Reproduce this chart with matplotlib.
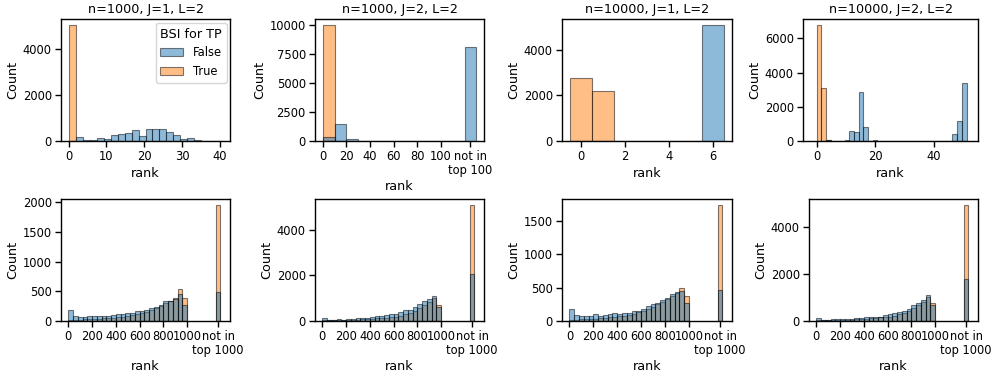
import numpy as np
import matplotlib
matplotlib.use("Agg")
import matplotlib.pyplot as plt

BLUE = "#1f77b4"
ORANGE = "#ff7f0e"

titles = ["n=1000, J=1, L=2", "n=1000, J=2, L=2", "n=10000, J=1, L=2", "n=10000, J=2, L=2"]

# --- top row ---------------------------------------------------------------
p1_edges = np.linspace(0, 40.7, 23)
p1_false = [0, 190, 30, 30, 150, 100, 250, 310, 370, 460, 230, 540, 540, 510, 390, 250, 100, 140, 60, 15, 10, 5]
p1_true = [5050] + [0] * 21

p2_edges = np.arange(0, 131, 10)
p2_false = [350, 1440, 140, 0, 0, 0, 0, 0, 0, 0, 0, 0, 8130]
p2_true = [10000] + [0] * 12
p2_ticks = [0, 20, 40, 60, 80, 100, 125]
p2_ticklabels = ["0", "20", "40", "60", "80", "100", "not in\ntop 100"]

p3_edges = np.arange(-0.5, 7.0, 1)
p3_false = [0, 0, 0, 0, 0, 0, 5060]
p3_true = [2760, 2190, 0, 0, 0, 0, 0]

p4_edges = np.linspace(0, 51.0, 33)
p4_false = [0, 0, 50, 0, 0, 0, 60, 580, 500, 2880, 820, 0, 50, 0, 0, 0,
            0, 0, 0, 0, 0, 0, 0, 0, 0, 0, 0, 0, 0, 410, 1170, 3420]
p4_true = [6770, 3110, 80] + [0] * 29

# --- bottom row (25 bins of width 40 up to 1000, plus the "not in top 1000" bin)
bottom_edges = list(range(0, 1001, 40))
notin_edges = [1240, 1280]
bottom_ticks = [0, 200, 400, 600, 800, 1000, 1260]
bottom_ticklabels = ["0", "200", "400", "600", "800", "1000", "not in\ntop 1000"]

p5_false = [190, 90, 75, 75, 90, 90, 85, 90, 90, 95, 110, 115, 140, 140, 175, 165,
            190, 225, 235, 275, 340, 345, 370, 460, 270, 490]
p5_true = [15, 20, 25, 30, 30, 35, 40, 45, 50, 55, 60, 70, 80, 95, 110, 135,
           160, 190, 220, 250, 300, 340, 390, 545, 390, 1960]

p6_false = [140, 60, 60, 85, 60, 90, 90, 115, 115, 145, 190, 215, 220, 250, 320, 325,
            385, 490, 490, 620, 740, 890, 950, 1100, 620, 2080]
p6_true = [30, 25, 30, 35, 40, 45, 50, 60, 70, 80, 95, 110, 130, 150, 170, 180,
           220, 295, 350, 440, 575, 680, 820, 1000, 720, 5090]

p7_false = [185, 85, 80, 80, 80, 110, 70, 85, 100, 115, 105, 125, 125, 150, 145, 185,
            230, 260, 275, 320, 345, 400, 430, 450, 265, 470]
p7_true = [15, 20, 25, 30, 30, 35, 40, 45, 55, 60, 70, 80, 95, 110, 130, 150,
           180, 210, 250, 290, 330, 380, 425, 500, 370, 1740]

p8_false = [140, 60, 60, 70, 80, 80, 90, 100, 120, 130, 150, 160, 180, 190, 260, 280,
            330, 400, 430, 520, 680, 770, 880, 1090, 670, 1770]
p8_true = [30, 25, 30, 35, 40, 45, 50, 60, 70, 80, 95, 110, 130, 150, 170, 190,
           230, 290, 350, 430, 560, 670, 820, 1000, 765, 4920]

yticks = [
    [0, 2000, 4000],
    [0, 2500, 5000, 7500, 10000],
    [0, 2000, 4000],
    [0, 2000, 4000, 6000],
    [0, 500, 1000, 1500, 2000],
    [0, 2000, 4000],
    [0, 500, 1000, 1500],
    [0, 2000, 4000],
]

plt.rcParams.update({
    "font.family": "DejaVu Sans",
    "axes.linewidth": 1.0,
    "xtick.major.size": 4.3,
    "ytick.major.size": 4.3,
    "xtick.major.width": 1.0,
    "ytick.major.width": 1.0,
    "xtick.major.pad": 2.3,
    "ytick.major.pad": 2.3,
    "xtick.labelsize": 8.3,
    "ytick.labelsize": 8.3,
    "axes.labelsize": 9.2,
    "axes.titlesize": 9.2,
    "axes.labelpad": 2.5,
    "axes.titlepad": 4.5,
})


def draw_hist(ax, edges, false_counts, true_counts):
    edges = np.asarray(edges, dtype=float)
    left = edges[:-1]
    width = np.diff(edges)
    # True layer first, False drawn on top (as seaborn layers hue levels)
    t = ax.bar(left, true_counts, width=width, align="edge", color=ORANGE,
               edgecolor="black", linewidth=0.8, alpha=0.5, label="True")
    f = ax.bar(left, false_counts, width=width, align="edge", color=BLUE,
               edgecolor="black", linewidth=0.8, alpha=0.5, label="False")
    ax.set_xlabel("rank")
    ax.set_ylabel("Count")
    return f, t


def draw_bottom(ax, false_counts, true_counts):
    draw_hist(ax, bottom_edges, false_counts[:-1], true_counts[:-1])
    draw_hist(ax, notin_edges, false_counts[-1:], true_counts[-1:])
    ax.set_xticks(bottom_ticks)
    ax.set_xticklabels(bottom_ticklabels, linespacing=1.05)
    ax.set_xlim(-62, 1360)


fig = plt.figure(figsize=(9.96, 3.74), dpi=100)
W, H = 996, 374
top_cols = [(61, 230), (315, 484), (562, 732), (803, 978)]
bot_cols = [(61, 230), (315, 484), (562, 732), (809, 978)]
top_y = (19.5, 141)
bot_y = (199, 321)

axes = []
for cols, (y0, y1) in [(top_cols, top_y), (bot_cols, bot_y)]:
    for x0, x1 in cols:
        axes.append(fig.add_axes([x0 / W, 1 - y1 / H, (x1 - x0) / W, (y1 - y0) / H]))

# panel 1
f, t = draw_hist(axes[0], p1_edges, p1_false, p1_true)
axes[0].set_xticks([0, 10, 20, 30, 40])
leg = axes[0].legend([f, t], ["False", "True"], title="BSI for TP", loc="upper right",
                     fontsize=8.3, title_fontsize=9.2, borderaxespad=0.3)

# panel 2
draw_hist(axes[1], p2_edges, p2_false, p2_true)
axes[1].set_xticks(p2_ticks)
axes[1].set_xticklabels(p2_ticklabels, linespacing=1.05)

# panel 3
draw_hist(axes[2], p3_edges, p3_false, p3_true)
axes[2].set_xticks([0, 2, 4, 6])

# panel 4
draw_hist(axes[3], p4_edges, p4_false, p4_true)
axes[3].set_xticks([0, 20, 40])
axes[3].set_xlim(-4.6, 54.9)

for ax, title in zip(axes[:4], titles):
    ax.set_title(title)

draw_bottom(axes[4], p5_false, p5_true)
draw_bottom(axes[5], p6_false, p6_true)
draw_bottom(axes[6], p7_false, p7_true)
draw_bottom(axes[7], p8_false, p8_true)

for ax, yt in zip(axes, yticks):
    ax.set_yticks(yt)

fig.savefig("out.png", dpi=100)
